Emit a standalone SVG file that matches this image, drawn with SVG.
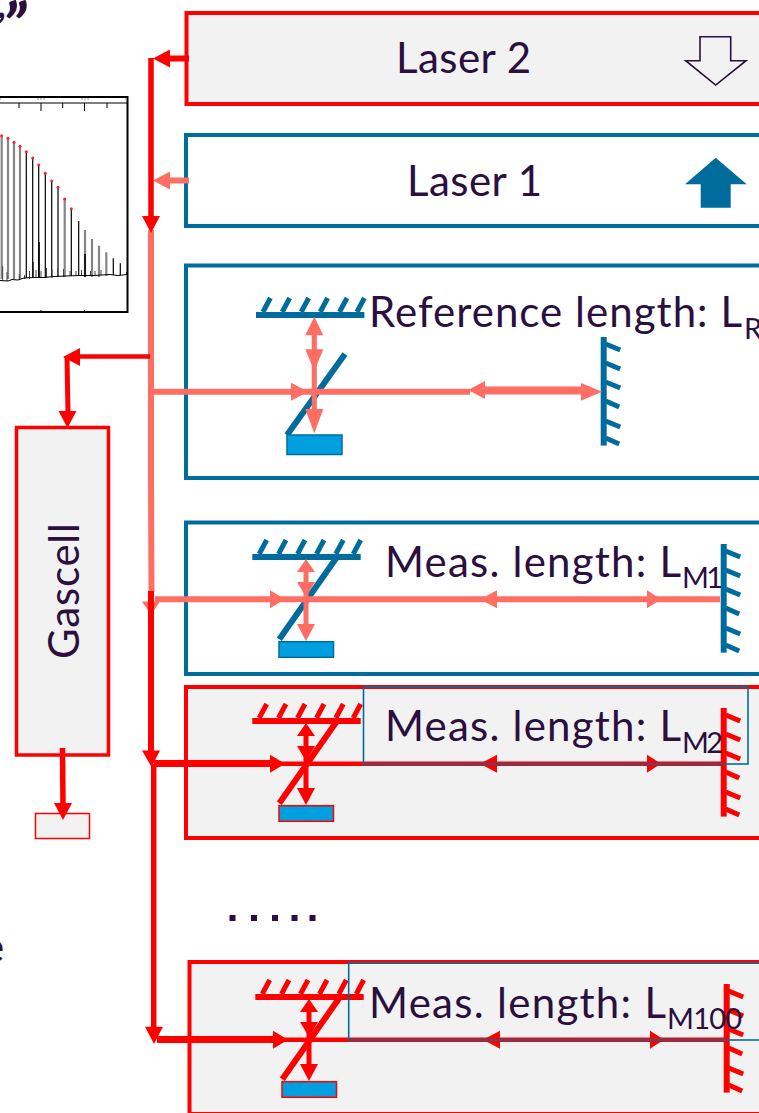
<svg xmlns="http://www.w3.org/2000/svg" width="759" height="1113" viewBox="0 0 759 1113">
<style>
text{font-family:"Lato","Carlito","Liberation Sans",sans-serif;fill:#2a0f3f;font-size:42px}
.sub{font-size:29px}
.box{stroke-width:4;fill:none}
.rb{stroke:#f00;fill:#f2f2f2}
.bb{stroke:#006c9e;fill:#fff}
.tb{fill:none;stroke:#006c9e;stroke-width:1.6}
.blue{color:#006c9e}
.red{color:#f00}
.sal{color:#ff6d63}
.pk{stroke:#000;stroke-width:1.200;fill:none}
.pg{stroke:#858585;stroke-width:2.200;fill:none}
.dot{fill:#f22}
.sp{stroke:#000;stroke-width:1;fill:none}
.r{stroke:#f00;fill:none}
.s{stroke:#ff6d63;fill:none}
.rf{fill:#f00}
.sf{fill:#ff6d63}
</style>
<defs>
<path id="hd" d="M0 0L-17 -9L-17 9Z"/>
<g id="mTop" fill="none" stroke="currentColor">
<path stroke-width="6" d="M0 0H108.4"/>
<path stroke-width="5" d="M6.9 -3L14.4 -17M26.2 -3L33.7 -17M45.2 -3L52.7 -17M64.2 -3L71.7 -17M83.5 -3L91 -17M100.9 -3L108.4 -17"/>
</g>
<g id="mRight" fill="none" stroke="currentColor">
<path stroke-width="6" d="M0 0V108.6"/>
<path stroke-width="5" d="M2 7L16.5 13M2 26L16.5 32M2 45L16.5 51M2 64L15.5 70M2 84L16.5 90M2 101L15.5 107"/>
</g>
<g id="dArrows" fill="currentColor" stroke="none">
<path d="M0 0L9 13H-9Z"/>
<path d="M0 38L-9 23H9Z"/>
<path d="M0 82L-9 65H9Z"/>
<path d="M-2.500 10H2.500V70H-2.500Z"/>
</g>
<g id="beam" fill="currentColor">
<path d="M285 0L270 -9V9Z"/>
<path d="M480 0L497 -9V9Z"/>
<path d="M661 0L647 -9V9Z"/>
</g>
</defs>

<text style="font-weight:900;font-style:italic"><tspan x="-2" y="18" style="font-size:36px">,</tspan><tspan x="3" y="48" style="font-size:62px">”</tspan></text>
<text x="-18" y="962">e</text>

<g id="spectrum">
<rect x="-5" y="97" width="132.500" height="215" fill="#fff" stroke="#000" stroke-width="2"/>
<path class="sp" d="M-5 103H127M19 103V108M41 103V111M62.700 103V108M84.500 103V111M107 103V108M41 310V312M84.500 310V312"/>
<path stroke="#999" stroke-width="1" d="M0 98V100M38 98V100M41 98V100M44 98V100M82 98V100M85 98V100M88 98V100M126 98V100"/>
<path class="pg" d="M1.700 279V135.700M8 279V138.300M14 279V142.300M20 279V146.300M64.700 277V199M85 277V230M92 277V239M99 277V245.700M106.300 276V252.300"/>
<path class="pk" d="M26.300 278V151.700M32.700 278V158M38.700 278V165M45.300 278V173.300M51.700 277V181M58 277V187.300M71.300 276V208.700M78.700 276V221M113.300 275V258.300M120.300 275V263.300M126.700 275V271.700"/>
<path stroke="#000" stroke-width="1.600" d="M39 278V242M85 277V254"/>
<path stroke="#444" stroke-width="1" fill="none" d="M2.700 280V266M7 281V272M19.300 280V274M24.500 279V275M29.500 279V271M33.500 278V262M36 278V270M41 278V271M46.500 278V268M52 278V269M57.500 277V268M63.500 277V269M70 276V271M76 276V271M81.500 276V270M90.500 276V271M95 276V271M101 275V270"/>
<path class="sp" d="M0 280.500L8 281L12 279.500L18 280L24 278L34 277.500L44 277.500L54 276.500L66 276L80 275.500L94 275.500L110 274.500L118 275.500L127 274.500"/>
<g class="dot">
<circle cx="1.700" cy="135.700" r="1.500"/><circle cx="8" cy="138.300" r="1.500"/><circle cx="14" cy="142.300" r="1.500"/><circle cx="20" cy="146.300" r="1.500"/><circle cx="26.300" cy="151.700" r="1.500"/><circle cx="32.700" cy="158" r="1.500"/><circle cx="38.700" cy="165" r="1.500"/><circle cx="45.300" cy="173.300" r="1.500"/><circle cx="51.700" cy="181" r="1.500"/><circle cx="58" cy="187.300" r="1.500"/><circle cx="64.700" cy="199" r="1.500"/><circle cx="71.300" cy="208.700" r="1.500"/>
</g>
</g>

<g id="laser-2">
<rect class="box rb" x="186.500" y="13" width="590" height="91"/>
<text x="396" y="73.300" textLength="135">Laser 2</text>
<path fill="none" stroke="#2a0f3f" stroke-width="1.600" d="M700 36.700H730.700V60.700H746L715.700 85L685.700 60.700H700Z"/>
</g>
<g id="laser-1">
<rect class="box bb" x="186" y="135" width="590" height="91"/>
<text x="407" y="195.700" textLength="135">Laser 1</text>
<path fill="#006c9e" d="M715.700 157.700L746.700 184.300H730.700V207.700H700.700V184.300H685Z"/>
</g>

<g id="reference">
<rect class="box bb" x="186" y="265.500" width="590" height="212.500"/>
<use href="#mTop" class="blue" x="256" y="315"/>
<use href="#mRight" class="blue" x="603.700" y="337"/>
<path d="M287 435L345 354" stroke="#006c9e" stroke-width="6" fill="none"/>
<rect x="287" y="435" width="55" height="19.500" fill="#00a0e0" stroke="#006c9e" stroke-width="1.500"/>
<text x="369" y="326.700" textLength="373">Reference length: L</text>
<text class="sub" x="744" y="339">R</text>
</g>

<g id="meas-1">
<rect class="box bb" x="186" y="522.500" width="590" height="151.500"/>
<use href="#mTop" class="blue" x="252.300" y="557"/>
<use href="#mRight" class="blue" x="723.700" y="544"/>
<path d="M279.300 639.300L337 557" stroke="#006c9e" stroke-width="6" fill="none"/>
<rect x="279" y="641.700" width="54.500" height="15.600" fill="#00a0e0" stroke="#006c9e" stroke-width="1.500"/>
<text x="385" y="576.700" textLength="296">Meas. length: L</text>
<text class="sub" x="682" y="588" textLength="41">M1</text>
</g>

<g id="meas-2">
<rect class="box rb" x="186" y="687" width="590" height="151"/>
<use href="#mTop" class="red" x="252.300" y="721"/>
<use href="#mRight" class="red" x="723.700" y="708"/>
<path d="M279.300 803.300L337 721" stroke="#f00" stroke-width="6" fill="none"/>
<rect x="279" y="805.700" width="54.500" height="15.600" fill="#00a0e0" stroke="#f00" stroke-width="1.500"/>
<text x="385" y="741" textLength="296">Meas. length: L</text>
<text class="sub" x="682" y="752.700" textLength="41">M2</text>
</g>

<g id="meas-100">
<rect class="box rb" x="189.500" y="962" width="590" height="152"/>
<use href="#mTop" class="red" x="255.300" y="997"/>
<use href="#mRight" class="red" x="726.700" y="984"/>
<path d="M282.300 1079.300L340 997" stroke="#f00" stroke-width="6" fill="none"/>
<rect x="282" y="1081.700" width="54.500" height="15.600" fill="#00a0e0" stroke="#f00" stroke-width="1.500"/>
<text x="369" y="1017.700" textLength="297">Meas. length: L</text>
<text class="sub" x="667" y="1029" textLength="75">M100</text>
</g>

<g id="gascell">
<rect x="16.500" y="427.500" width="92" height="327.500" fill="#f2f2f2" stroke="#f00" stroke-width="3.500"/>
<text transform="translate(79 659) rotate(-90)" textLength="136">Gascell</text>
</g>
<g id="gas-output">
<rect x="35.500" y="813.500" width="54" height="25" fill="#f2f2f2" stroke="#f00" stroke-width="1.500"/>
</g>

<g id="connectors">
<path class="r" stroke-width="6" d="M189 58.500H168"/>
<use href="#hd" class="rf" transform="translate(153 58.500) rotate(180)"/>
<path class="s" stroke-width="6" d="M189 180.500H168"/>
<use href="#hd" class="sf" transform="translate(153 180.500) rotate(180)"/>
<path class="s" stroke-width="6" d="M151 230V476L151.500 592"/>
<path class="r" stroke-width="5.500" d="M151 58V220"/>
<use href="#hd" class="rf" transform="translate(151 233) rotate(90)"/>
<path class="r" stroke-width="4.500" d="M150 356.500H76"/>
<use href="#hd" class="rf" transform="translate(63 357) rotate(180)"/>
<path class="r" stroke-width="5" d="M67 356L68 414"/>
<use href="#hd" class="rf" transform="translate(67.500 428) rotate(90)"/>
<path class="r" stroke-width="5.500" d="M62.500 748L63 806"/>
<use href="#hd" class="rf" transform="translate(63 820) rotate(90)"/>

<path class="s" stroke-width="6" d="M151 391.700H470"/>
<use href="#hd" class="sf" transform="translate(308 391.700)"/>
<use href="#hd" class="sf" transform="translate(468 390) rotate(180)"/>
<path class="s" stroke-width="8" d="M480 390.500H590"/>
<path class="sf" d="M602 391.700L581 383V400.700Z"/>
<use href="#dArrows" class="sal" transform="translate(314.300 316.700) scale(1 1.420)"/>

<path class="sf" d="M142 601.500H160L151 615Z"/>
<path class="s" stroke-width="6" d="M155 599.300H720"/>
<use href="#beam" class="sal" y="599.300"/>
<use href="#dArrows" class="sal" transform="translate(306 559)"/>

<path class="r" stroke-width="6" d="M151 591V755"/>
<path class="rf" d="M142 750.500H160L151.500 767Z"/>
<path class="r" stroke-width="7" d="M154 763.500H275"/>
<path class="r" stroke-width="4.500" d="M275 763.700H722"/>
<use href="#beam" class="red" y="763.700"/>
<use href="#dArrows" class="red" transform="translate(306 723)"/>

<path class="r" stroke-width="5.500" d="M153.700 764V1030"/>
<path class="rf" d="M145 1026.700H163L154 1044Z"/>
<path class="r" stroke-width="7" d="M157 1039.500H278"/>
<path class="r" stroke-width="4.500" d="M278 1039.700H725"/>
<g transform="translate(3 0)"><use href="#beam" class="red" y="1039.700"/></g>
<use href="#dArrows" class="red" transform="translate(309 999)"/>
</g>

<g id="label-box-m2"><rect class="tb" x="363.500" y="687" width="384.500" height="77"/></g>
<g id="label-box-m100"><rect class="tb" x="348.700" y="962.700" width="430" height="77.300"/></g>

<g id="dots" fill="#2a0f3f">
<rect x="229.500" y="915" width="6" height="6"/><rect x="251" y="915" width="6" height="6"/><rect x="272" y="915" width="6" height="6"/><rect x="291.500" y="915" width="6" height="6"/><rect x="309.500" y="915" width="6" height="6"/>
</g>
</svg>
